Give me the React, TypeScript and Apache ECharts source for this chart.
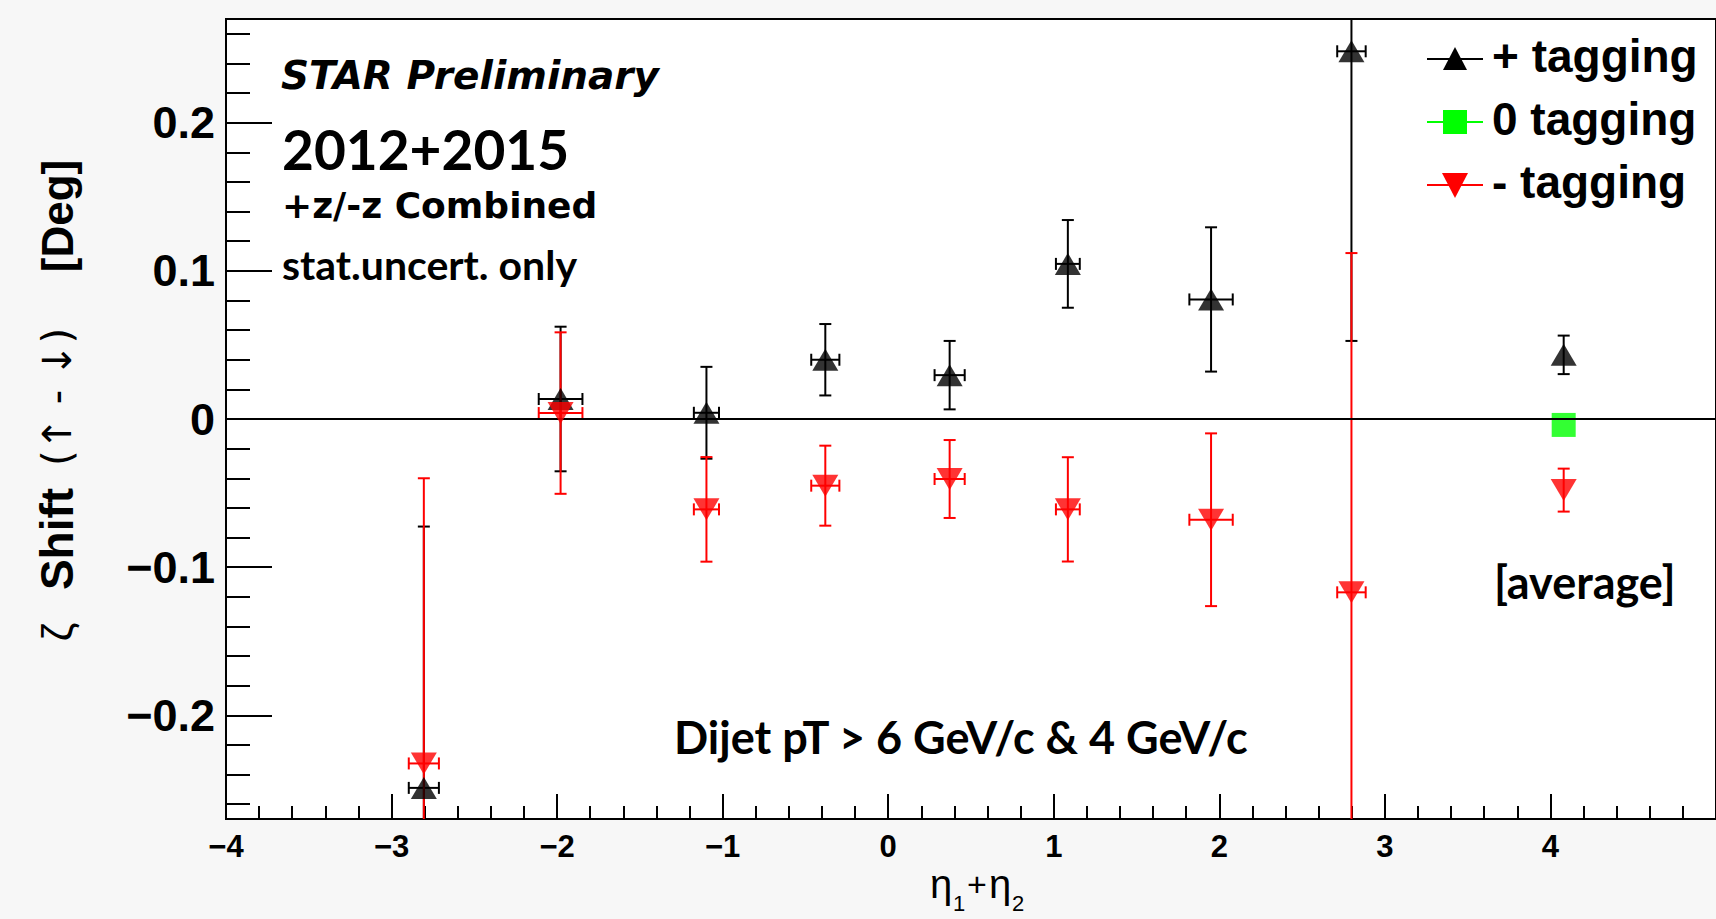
import React, { useEffect, useRef } from "react";
import * as echarts from "echarts";

// ---- data ----
const binX = [-2.805, -1.979, -1.098, -0.38, 0.371, 1.085, 1.95, 2.798];
const binXErr = [0.091, 0.132, 0.076, 0.085, 0.091, 0.072, 0.131, 0.086];
const plusVals = [-0.249, 0.0135, 0.0042, 0.04, 0.0296, 0.1047, 0.0807, 0.2482];
const plusErr = [0.1764, 0.0488, 0.031, 0.0241, 0.0231, 0.0296, 0.0487, 0.1955];
const minusVals = [-0.2325, 0.004, -0.061, -0.045, -0.0405, -0.061, -0.068, -0.117];
const minusErr = [0.1925, 0.0545, 0.0353, 0.027, 0.0263, 0.0352, 0.0583, 0.229];
const avgX = [4.08];
const avgPlus = [0.0433];
const avgPlusErr = [0.013];
const avgZero = [-0.004];
const avgMinus = [-0.048];
const avgMinusErr = [0.0145];

const yMajorTicks = [-0.2, -0.1, 0, 0.1, 0.2];
const yMinorTicks = [-0.26, -0.24, -0.22, -0.18, -0.16, -0.14, -0.12, -0.08, -0.06, -0.04, -0.02,
  0.02, 0.04, 0.06, 0.08, 0.12, 0.14, 0.16, 0.18, 0.22, 0.24, 0.26];
const legendLabels = ["+ tagging", "0 tagging", "- tagging"];

const W = 1716;
const H = 919;
const GRID_LEFT = 226;
const GRID_TOP = 19;
const GRID_W = 1511;
const GRID_H = 800;

function errRows(xs: number[], xe: number[], ys: number[], ye: number[]) {
  return xs.map((x, i) => [x, ys[i], xe[i], ye[i]]);
}

function makeErrSeries(data: number[][], color: string) {
  return {
    type: "custom",
    clip: true,
    z: 3,
    data,
    renderItem: (params: any, api: any) => {
      const x = api.value(0);
      const y = api.value(1);
      const ex = api.value(2);
      const ey = api.value(3);
      const top = api.coord([x, y + ey]);
      const bot = api.coord([x, y - ey]);
      const c = api.coord([x, y]);
      const style = { stroke: color, lineWidth: 2 };
      const cap = 6;
      const children: any[] = [
        { type: "line", shape: { x1: top[0], y1: top[1], x2: bot[0], y2: bot[1] }, style },
        { type: "line", shape: { x1: top[0] - cap, y1: top[1], x2: top[0] + cap, y2: top[1] }, style },
        { type: "line", shape: { x1: bot[0] - cap, y1: bot[1], x2: bot[0] + cap, y2: bot[1] }, style },
      ];
      if (ex > 0) {
        const l = api.coord([x - ex, y]);
        const r = api.coord([x + ex, y]);
        children.push(
          { type: "line", shape: { x1: l[0], y1: c[1], x2: r[0], y2: c[1] }, style },
          { type: "line", shape: { x1: l[0], y1: c[1] - cap, x2: l[0], y2: c[1] + cap }, style },
          { type: "line", shape: { x1: r[0], y1: c[1] - cap, x2: r[0], y2: c[1] + cap }, style }
        );
      }
      return { type: "group", children };
    },
  };
}

const fmtNum = (v: number) => {
  if (Math.abs(v) < 1e-9) return "0";
  const s = String(Math.round(Math.abs(v) * 100) / 100);
  return v < 0 ? "\u2212" + s : s;
};

export default function App() {
  const ref = useRef<HTMLDivElement>(null);

  useEffect(() => {
    if (!ref.current) return;
    const chart = echarts.init(ref.current, undefined, { renderer: "svg", width: W, height: H });

    const plusData = errRows(binX, binXErr, plusVals, plusErr).concat(
      errRows(avgX, [0], avgPlus, avgPlusErr)
    );
    const minusData = errRows(binX, binXErr, minusVals, minusErr).concat(
      errRows(avgX, [0], avgMinus, avgMinusErr)
    );
    const plusPts = binX.map((x, i) => [x, plusVals[i]]).concat(avgX.map((x, i) => [x, avgPlus[i]]));
    const minusPts = binX.map((x, i) => [x, minusVals[i]]).concat(avgX.map((x, i) => [x, avgMinus[i]]));
    const zeroPts = avgX.map((x, i) => [x, avgZero[i]]);

    const helv = "Liberation Sans, Arial, sans-serif";
    const fut = "Lato, sans-serif";
    const wide = "DejaVu Sans, sans-serif";

    const legendY = [59, 122, 185];
    const lx1 = 1427;
    const lx2 = 1483;
    const lmx = 1455;

    const txt = (x: number, y: number, text: string, font: string) => ({
      type: "text", x, y,
      style: { text, font, fill: "#000", align: "left", verticalAlign: "middle" },
    });
    const vtxt = (y: number, text: string, font: string) => ({
      type: "text", x: 57, y, rotation: Math.PI / 2,
      style: { text, font, fill: "#000", align: "center", verticalAlign: "middle" },
    });

    const graphics: any[] = [
      // annotations
      txt(281, 75, "STAR Preliminary", `italic bold 39px ${wide}`),
      txt(282, 149, "2012+2015", `bold 55px ${fut}`),
      txt(282, 205, "+z/-z Combined", `bold 36px ${wide}`),
      txt(282, 264, "stat.uncert. only", `bold 41px ${fut}`),
      txt(674, 737, "Dijet pT > 6 GeV/c & 4 GeV/c", `bold 45px ${fut}`),
      txt(1494, 582, "[average]", `bold 45px ${fut}`),
      // y axis title (pieces)
      vtxt(632, "\u03B6", `42px ${helv}`),
      vtxt(539, "Shift", `bold 46px ${helv}`),
      vtxt(397, "(\u2191 - \u2193)", `40px ${wide}`),
      vtxt(216, "[Deg]", `bold 44px ${helv}`),
      // x axis title
      txt(930, 884, "\u03B7", `40px ${helv}`),
      txt(953, 903, "1", `22px ${helv}`),
      txt(967, 884, "+", `34px ${helv}`),
      txt(989, 884, "\u03B7", `40px ${helv}`),
      txt(1012, 903, "2", `22px ${helv}`),
      // legend
      { type: "line", shape: { x1: lx1, y1: legendY[0], x2: lx2, y2: legendY[0] }, style: { stroke: "#000", lineWidth: 2 } },
      { type: "polygon", shape: { points: [[lmx - 12, legendY[0] + 11], [lmx + 12, legendY[0] + 11], [lmx, legendY[0] - 12]] }, style: { fill: "#000" } },
      { type: "line", shape: { x1: lx1, y1: legendY[1], x2: lx2, y2: legendY[1] }, style: { stroke: "#00ff00", lineWidth: 2 } },
      { type: "rect", shape: { x: lmx - 12, y: legendY[1] - 12, width: 24, height: 24 }, style: { fill: "#00ff00" } },
      { type: "line", shape: { x1: lx1, y1: legendY[2], x2: lx2, y2: legendY[2] }, style: { stroke: "#ff0000", lineWidth: 2 } },
      { type: "polygon", shape: { points: [[lmx - 13, legendY[2] - 12], [lmx + 13, legendY[2] - 12], [lmx, legendY[2] + 13]] }, style: { fill: "#ff0000" } },
      ...legendLabels.map((t, i) => txt(1492, legendY[i] - 3, t, `bold 46px ${helv}`)),
    ];

    chart.setOption({
      animation: false,
      backgroundColor: "#f7f7f7",
      grid: {
        left: GRID_LEFT, top: GRID_TOP, width: GRID_W, height: GRID_H,
        show: true, backgroundColor: "#ffffff", borderColor: "#000", borderWidth: 2,
      },
      xAxis: {
        type: "value", min: -4, max: 5, interval: 1,
        axisLine: { show: true, onZero: false, lineStyle: { color: "#000", width: 2 } },
        axisTick: { show: true, inside: true, length: 25, lineStyle: { color: "#000", width: 2 } },
        minorTick: { show: true, splitNumber: 5, length: 13, lineStyle: { color: "#000", width: 2 } },
        splitLine: { show: false },
        axisLabel: {
          show: true, margin: 12, color: "#000", fontSize: 31, fontWeight: "bold", fontFamily: helv,
          showMaxLabel: false, formatter: (v: number) => fmtNum(v),
        },
      },
      yAxis: [
        {
          type: "value", min: -0.27, max: 0.27, position: "left",
          axisLine: { show: true, onZero: false, lineStyle: { color: "#000", width: 2 } },
          axisTick: { show: true, inside: true, length: 46, customValues: yMajorTicks, lineStyle: { color: "#000", width: 2 } },
          axisLabel: {
            show: true, customValues: yMajorTicks, margin: 11, color: "#000", fontSize: 45,
            fontWeight: "bold", fontFamily: helv, formatter: (v: number) => fmtNum(v),
          },
          splitLine: { show: false },
        },
        {
          type: "value", min: -0.27, max: 0.27, position: "left",
          axisLine: { show: false, onZero: false },
          axisTick: { show: true, inside: true, length: 24, customValues: yMinorTicks, lineStyle: { color: "#000", width: 2 } },
          axisLabel: { show: false, customValues: yMinorTicks },
          splitLine: { show: false },
        },
      ],
      series: [
        {
          type: "line", data: [], z: 1, silent: true,
          markLine: {
            silent: true, symbol: ["none", "none"], label: { show: false },
            lineStyle: { color: "#000", width: 2, type: "solid" },
            data: [{ yAxis: 0 }],
          },
        },
        makeErrSeries(plusData, "#000000"),
        {
          type: "scatter", data: plusPts, symbol: "triangle", symbolSize: [26, 22], z: 4,
          itemStyle: { color: "#000000" },
        },
        {
          type: "scatter", data: zeroPts, symbol: "rect", symbolSize: [24, 24], z: 4,
          itemStyle: { color: "#00ff00" },
        },
        makeErrSeries(minusData, "#ff0000"),
        {
          type: "scatter", data: minusPts, symbol: "triangle", symbolRotate: 180, symbolSize: [26, 22], z: 5,
          itemStyle: { color: "#ff0000" },
        },
      ],
      graphic: graphics,
    });

    return () => chart.dispose();
  }, []);

  return (
    <div
      ref={ref}
      style={{ position: "fixed", left: 0, top: 0, width: W, height: H }}
    />
  );
}
